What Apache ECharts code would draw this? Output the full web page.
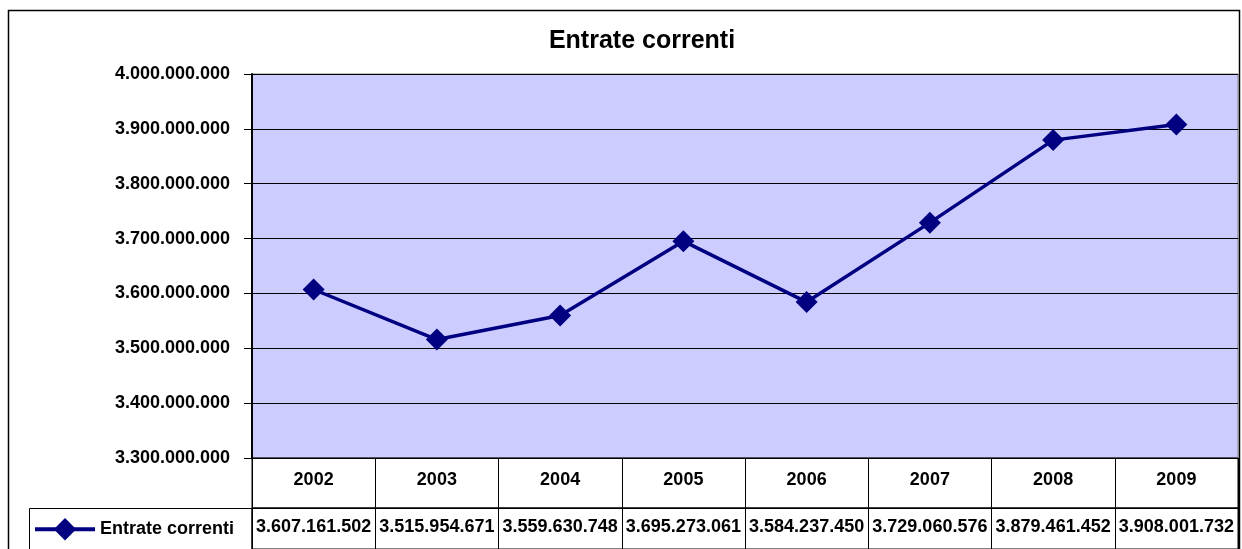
<!DOCTYPE html>
<html>
<head>
<meta charset="utf-8">
<script src="https://cdn.jsdelivr.net/npm/echarts@6/dist/echarts.min.js"></script>
<style>
  html, body { margin: 0; padding: 0; background: #fff; }
  #chart { width: 1242px; height: 549px; }
</style>
</head>
<body>
<div id="chart"></div>
<script>
// ---- data ----
var title = 'Entrate correnti';
var seriesName = 'Entrate correnti';
var years = ['2002', '2003', '2004', '2005', '2006', '2007', '2008', '2009'];
var values = [3607161502, 3515954671, 3559630748, 3695273061, 3584237450, 3729060576, 3879461452, 3908001732];
var yMin = 3300000000;
var yMax = 4000000000;
var yStep = 100000000;

function fmt(n) {
  return String(Math.round(n)).replace(/\B(?=(\d{3})+(?!\d))/g, '.');
}

var FONT = '"Liberation Sans", Arial, sans-serif';
var chart = echarts.init(document.getElementById('chart'));

var option = {
  animation: false,
  backgroundColor: '#ffffff',
  title: {
    text: title,
    left: 637,
    textAlign: 'center',
    top: 24,
    textStyle: { fontFamily: FONT, fontWeight: 'bold', fontSize: 25, color: '#000' }
  },
  legend: {
    data: [seriesName],
    left: 28,
    top: 513,
    itemWidth: 60,
    itemHeight: 28,
    itemGap: 5,
    lineStyle: { width: 4, color: '#000080' },
    textStyle: { fontFamily: FONT, fontWeight: 'bold', fontSize: 18, color: '#000' }
  },
  grid: [
    { left: 252, top: 74, width: 986, height: 384, show: true, backgroundColor: '#CCCCFF', borderColor: '#808080', borderWidth: 1, containLabel: false },
    { left: 252, top: 458, width: 986, height: 50, show: true, backgroundColor: 'transparent', borderColor: '#000', borderWidth: 1 },
    { left: 252, top: 508, width: 986, height: 80, show: true, backgroundColor: 'transparent', borderColor: '#000', borderWidth: 1 }
  ],
  xAxis: [
    {
      type: 'category', gridIndex: 0, data: years,
      axisLine: { show: true, lineStyle: { color: '#000', width: 1 } },
      axisTick: { show: false }, axisLabel: { show: false }, splitLine: { show: false }
    },
    {
      type: 'category', gridIndex: 1, data: years, position: 'top',
      axisLine: { show: true, lineStyle: { color: '#000', width: 1 } },
      axisTick: { show: false },
      axisLabel: { show: true, inside: true, margin: 22, verticalAlign: 'middle', interval: 0,
        fontFamily: FONT, fontWeight: 'bold', fontSize: 18, color: '#000' },
      splitLine: { show: true, lineStyle: { color: '#000', width: 1 } }
    },
    {
      type: 'category', gridIndex: 2, data: years, position: 'top',
      axisLine: { show: true, lineStyle: { color: '#000', width: 1 } },
      axisTick: { show: false },
      axisLabel: { show: true, inside: true, margin: 19, verticalAlign: 'middle', interval: 0,
        fontFamily: FONT, fontWeight: 'bold', fontSize: 18, color: '#000',
        formatter: function (v, i) { return fmt(values[i]); } },
      splitLine: { show: true, lineStyle: { color: '#000', width: 1 } }
    }
  ],
  yAxis: [
    {
      type: 'value', gridIndex: 0, min: yMin, max: yMax, interval: yStep,
      axisLine: { show: true, lineStyle: { color: '#000', width: 2 } },
      axisTick: { show: true, length: 8, lineStyle: { color: '#000', width: 1 } },
      axisLabel: { margin: 22, fontFamily: FONT, fontWeight: 'bold', fontSize: 18, color: '#000',
        formatter: function (v) { return fmt(v); } },
      splitLine: { show: true, lineStyle: { color: '#000', width: 1 } }
    },
    { type: 'value', gridIndex: 1, show: false, splitLine: { show: false } },
    { type: 'value', gridIndex: 2, show: false, splitLine: { show: false } }
  ],
  series: [
    {
      name: seriesName,
      type: 'line',
      xAxisIndex: 0, yAxisIndex: 0,
      data: values,
      color: '#000080',
      lineStyle: { color: '#000080', width: 3.5 },
      itemStyle: { color: '#000080' },
      symbol: 'diamond',
      symbolSize: 22,
      showAllSymbol: true,
      z: 5
    }
  ],
  graphic: [
    { type: 'rect', silent: true, z: 100,
      shape: { x: 8.5, y: 10.5, width: 1231, height: 620 },
      style: { fill: 'none', stroke: '#000', lineWidth: 1.5 } },
    { type: 'rect', silent: true, z: 100,
      shape: { x: 29.5, y: 508.5, width: 222.5, height: 100 },
      style: { fill: 'none', stroke: '#000', lineWidth: 1 } }
  ]
};

chart.setOption(option);
</script>
</body>
</html>
